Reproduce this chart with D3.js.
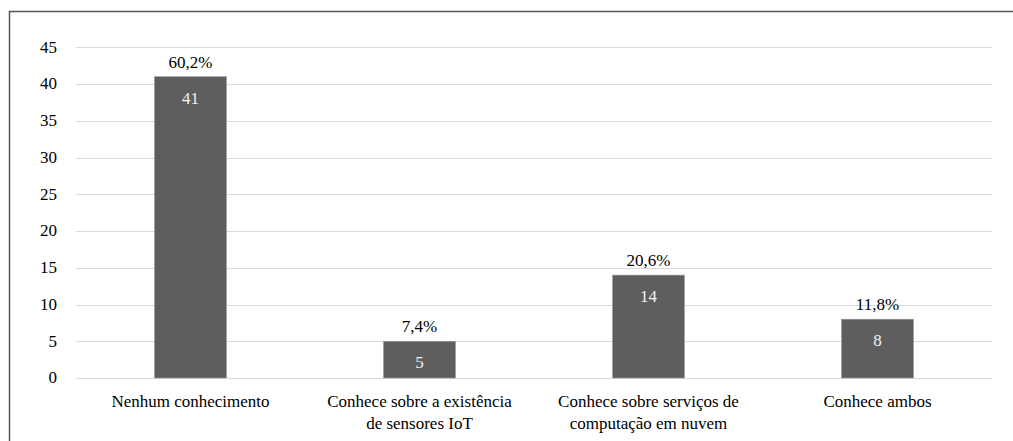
<!DOCTYPE html>
<html>
<head>
<meta charset="utf-8">
<script src="https://cdn.jsdelivr.net/npm/d3@7"></script>
<style>
  body { margin: 0; background: #fff; font-family: "Liberation Serif"; }
  svg text { font-family: "Liberation Serif"; font-size: 17px; }
</style>
</head>
<body>
<script>
// values
var categorias = [
  ["Nenhum conhecimento"],
  ["Conhece sobre a existência", "de sensores IoT"],
  ["Conhece sobre serviços de", "computação em nuvem"],
  ["Conhece ambos"]
];
var valores = [41, 5, 14, 8];
var percentuais = ["60,2%", "7,4%", "20,6%", "11,8%"];
var ticksY = [0, 5, 10, 15, 20, 25, 30, 35, 40, 45];

var drawChart = () => {
  const w = 1013;
  const h = 441;
  const left = 76, right = 992, top = 47.3, bottom = 378;

  var svg = d3.select('body')
    .append('svg')
    .attr('width', w)
    .attr('height', h)
    .attr('font-family', 'Liberation Serif')
    .attr('font-size', 17);

  // frame
  svg.append('path')
    .attr('d', 'M9.5,' + h + ' L9.5,11.5 L' + w + ',11.5')
    .attr('fill', 'none')
    .attr('stroke', '#555')
    .attr('stroke-width', 1.5);

  var x = d3.scaleBand()
    .domain(d3.range(categorias.length))
    .range([left, right])
    .paddingInner(0.686)
    .paddingOuter(0.343);

  var y = d3.scaleLinear()
    .domain([0, 45])
    .range([bottom, top]);

  // grid
  svg.selectAll('.grid')
    .data(ticksY)
    .enter()
    .append('line')
    .attr('class', 'grid')
    .attr('x1', left)
    .attr('x2', right)
    .attr('y1', d => Math.round(y(d)) + 0.5)
    .attr('y2', d => Math.round(y(d)) + 0.5)
    .attr('stroke', '#d9d9d9')
    .attr('stroke-width', 1);

  // y labels
  svg.selectAll('.tick')
    .data(ticksY)
    .enter()
    .append('text')
    .attr('class', 'tick')
    .attr('x', left - 19)
    .attr('y', d => y(d))
    .attr('dy', '0.32em')
    .attr('text-anchor', 'end')
    .attr('font-family', 'Liberation Serif')
    .attr('fill', '#000')
    .text(d => d);

  // bars
  svg.selectAll('.bar')
    .data(valores)
    .enter()
    .append('rect')
    .attr('class', 'bar')
    .attr('x', (d, i) => x(i))
    .attr('width', x.bandwidth())
    .attr('y', d => y(d))
    .attr('height', d => y(0) - y(d))
    .attr('fill', '#5e5e5e')
    .attr('stroke', '#9a9a9a')
    .attr('stroke-width', 0.6);

  // values inside bars
  svg.selectAll('.val')
    .data(valores)
    .enter()
    .append('text')
    .attr('class', 'val')
    .attr('x', (d, i) => x(i) + x.bandwidth() / 2)
    .attr('y', d => y(d) + 27)
    .attr('text-anchor', 'middle')
    .attr('font-family', 'Liberation Serif')
    .attr('fill', '#f2f2f2')
    .text(d => d);

  // percentages
  svg.selectAll('.pct')
    .data(valores)
    .enter()
    .append('text')
    .attr('class', 'pct')
    .attr('x', (d, i) => x(i) + x.bandwidth() / 2)
    .attr('y', d => y(d) - 9)
    .attr('text-anchor', 'middle')
    .attr('font-family', 'Liberation Serif')
    .attr('fill', '#000')
    .text((d, i) => percentuais[i]);

  // category labels
  var rot = svg.selectAll('.cat')
    .data(categorias)
    .enter()
    .append('text')
    .attr('class', 'cat')
    .attr('text-anchor', 'middle')
    .attr('font-family', 'Liberation Serif')
    .attr('fill', '#000');
  rot.selectAll('tspan')
    .data((d, i) => d.map(s => ({ s: s, i: i })))
    .enter()
    .append('tspan')
    .attr('x', d => x(d.i) + x.bandwidth() / 2)
    .attr('y', (d, j) => 407 + j * 22)
    .text(d => d.s);
}

drawChart();
</script>
</body>
</html>
